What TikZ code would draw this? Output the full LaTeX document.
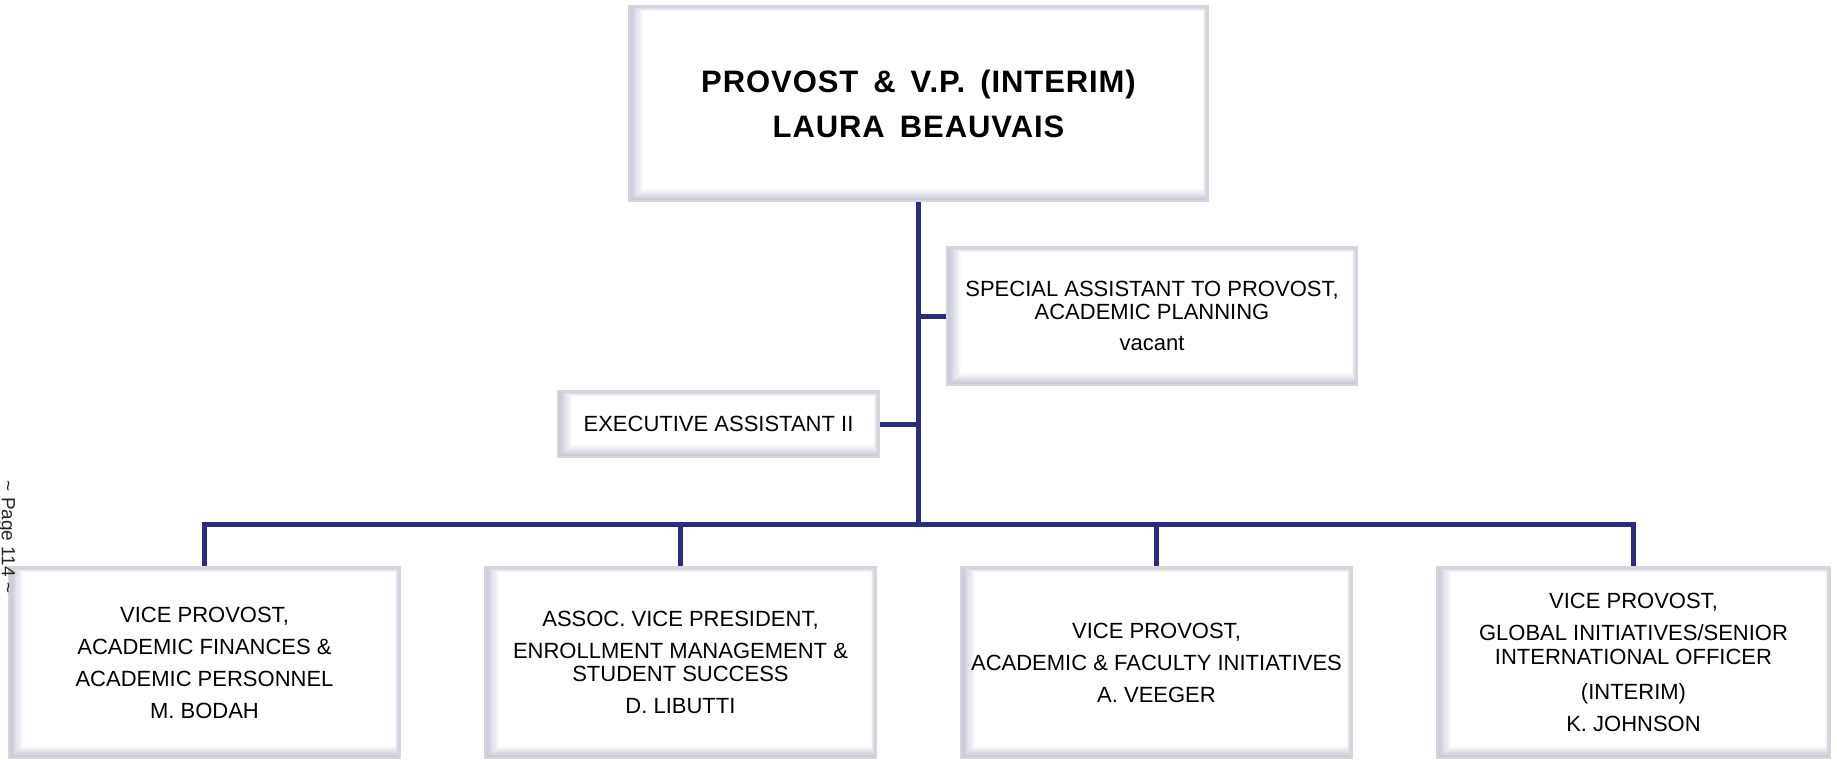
\documentclass[tikz,border=0pt]{standalone}
\usepackage{fontspec}
\setmainfont{Liberation Sans}
\newfontfamily\headfont{Liberation Sans}[LetterSpace=3]
\definecolor{navy}{RGB}{44,44,124}
\definecolor{bevel}{RGB}{196,196,214}
\definecolor{rim}{RGB}{214,214,218}
\newcommand\widewords{\spaceskip=7.5pt plus 1pt\relax}
\tikzset{
  conn/.style={draw=navy, line width=2.5pt, line join=miter},
  card/.style={draw=rim, line width=1.2pt, fill=white, inner sep=0pt, align=center,
    font=\fontsize{11}{16}\selectfont,
    path picture={
      \foreach \i in {0,...,11}{
        \pgfmathtruncatemacro\p{100-100*\i/12}
        \fill[bevel!\p!white]
          ([xshift=\i*0.6pt, yshift=\i*0.5pt]path picture bounding box.south west)
          rectangle
          ([xshift=-\i*0.22pt, yshift=-\i*0.22pt]path picture bounding box.north east);
      }
      \fill[white]
        ([xshift=7.2pt, yshift=6pt]path picture bounding box.south west)
        rectangle
        ([xshift=-2.64pt, yshift=-2.64pt]path picture bounding box.north east);
    }},
  lowcard/.style={card, minimum width=195.5pt, minimum height=95.5pt}
}
\begin{document}
\begin{tikzpicture}[x=0.5pt, y=-0.5pt]
  \fill[white] (0,0) rectangle (1837,760);
  \useasboundingbox (0,0) rectangle (1837,760);

  % head of the office
  \node[card, minimum width=289.5pt, minimum height=97.5pt,
        font=\headfont\fontsize{15.5}{22.5}\selectfont\bfseries]
        (prov) at (918.5,103.5) {\widewords PROVOST \& V.P. (INTERIM)\\\widewords LAURA BEAUVAIS};

  % staff positions
  \node[card, minimum width=205pt, minimum height=69pt,
        font=\fontsize{11}{11.5}\selectfont]
        (spec) at (1152,316) {SPECIAL ASSISTANT TO PROVOST,\\ACADEMIC PLANNING\\[4pt]vacant};
  \node[card, minimum width=160.5pt, minimum height=33pt]
        (exec) at (718.5,424) {EXECUTIVE ASSISTANT II};

  % direct reports
  \node[lowcard] (b1) at (204.5,662.5)
    {VICE PROVOST,\\ACADEMIC FINANCES \&\\ACADEMIC PERSONNEL\\M. BODAH};
  \node[lowcard] (b2) at (680.5,662.5)
    {ASSOC. VICE PRESIDENT,\\ENROLLMENT MANAGEMENT \&\\[-4.3pt]STUDENT SUCCESS\\D. LIBUTTI};
  \node[lowcard] (b3) at (1156.5,662.5)
    {VICE PROVOST,\\ACADEMIC \& FACULTY INITIATIVES\\A. VEEGER};
  \node[lowcard, minimum width=196.5pt] (b4) at (1633.5,662.5)
    {VICE PROVOST,\\GLOBAL INITIATIVES/SENIOR\\[-4pt]INTERNATIONAL OFFICER\\[1.5pt](INTERIM)\\K. JOHNSON};

  % reporting lines
  \coordinate (hub) at (918.5,524);
  \draw[conn] (prov.south) -- (hub);
  \draw[conn] (spec.west) -- (spec.west -| hub);
  \draw[conn] (exec.east) -- (exec.east -| hub);
  \draw[conn] (hub) -| (b1.north);
  \draw[conn] (hub) -| (b2.north);
  \draw[conn] (hub) -| (b3.north);
  \draw[conn] (hub) -| (b4.north);

  % page number in the margin
  \node[rotate=-90, anchor=base, inner sep=0pt, text=black!85,
        font=\fontsize{9.5}{10}\selectfont]
        (page) at (2,537) {\textasciitilde{} Page 114 \textasciitilde};
\end{tikzpicture}
\end{document}
